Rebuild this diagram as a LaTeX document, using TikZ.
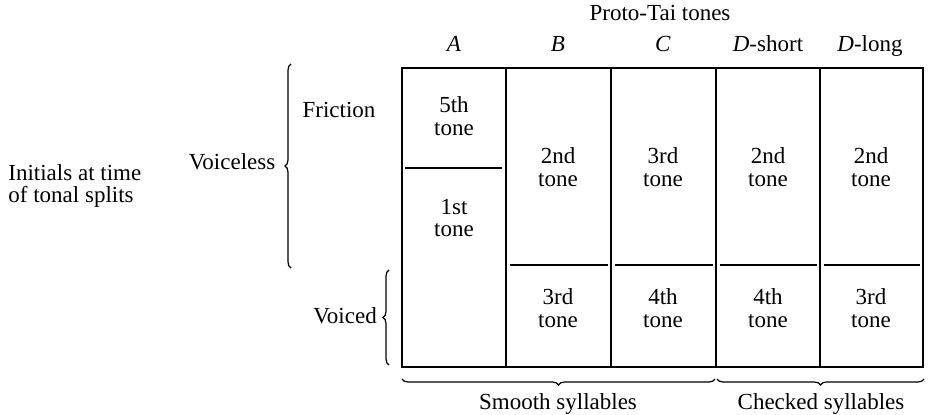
\documentclass[tikz,border=0pt]{standalone}
\usepackage{fontspec}
\setmainfont{Liberation Serif}
\usetikzlibrary{decorations.pathreplacing}
\begin{document}
\begin{tikzpicture}[x=0.5pt,y=-0.5pt,
  txt/.style={font=\fontsize{11.5}{11.4}\selectfont, inner sep=0pt, align=center},
  lbl/.style={txt, anchor=base},
  grid/.style={line width=0.65pt},
  brc/.style={decorate, decoration={brace, amplitude=3pt}, line width=0.6pt}]
\useasboundingbox (0,0) rectangle (929,415);
% table frame
\draw[grid] (402,68) rectangle (923,367);
\foreach \cx in {506,611,716,820} \draw[grid] (\cx,68) -- (\cx,367);
% split lines
\draw[grid] (405,168) -- (502,168);
\foreach \a/\b in {510/608,615/713,720/817,824/920} \draw[grid] (\a,265) -- (\b,265);
% headings
\node[lbl] (title) at (660,21) {Proto-Tai tones};
\node[lbl] (hA) at (454,52) {\textit{A}};
\node[lbl] (hB) at (558,52) {\textit{B}};
\node[lbl] (hC) at (663,52) {\textit{C}};
\node[lbl] (hDs) at (768,52) {\textit{D}-short};
\node[lbl] (hDl) at (870,52) {\textit{D}-long};
% cells
\node[txt] (a1) at (454,116) {5th\\tone};
\node[txt] (a2) at (454,218) {1st\\tone};
\node[txt] (b1) at (558,167) {2nd\\tone};
\node[txt] (c1) at (663,167) {3rd\\tone};
\node[txt] (d1) at (768,167) {2nd\\tone};
\node[txt] (e1) at (871,167) {2nd\\tone};
\node[txt] (b2) at (558,308) {3rd\\tone};
\node[txt] (c2) at (663,308) {4th\\tone};
\node[txt] (d2) at (768,308) {4th\\tone};
\node[txt] (e2) at (871,308) {3rd\\tone};
% left labels
\node[lbl] (fric) at (339,118) {Friction};
\node[lbl] (vless) at (232,170) {Voiceless};
\node[lbl] (voiced) at (345,324) {Voiced};
\node[txt, align=left, anchor=west] (init) at (8,186) {Initials at time\\of tonal splits};
% braces
\draw[brc] (291,268) -- (291,64);
\draw[brc] (389,365) -- (389,270);
\draw[brc] (715,379) -- (402,379);
\draw[brc] (924,379) -- (717,379);
\node[lbl] (smooth) at (558,410) {Smooth syllables};
\node[lbl] (checked) at (821,410) {Checked syllables};
\end{tikzpicture}
\end{document}
